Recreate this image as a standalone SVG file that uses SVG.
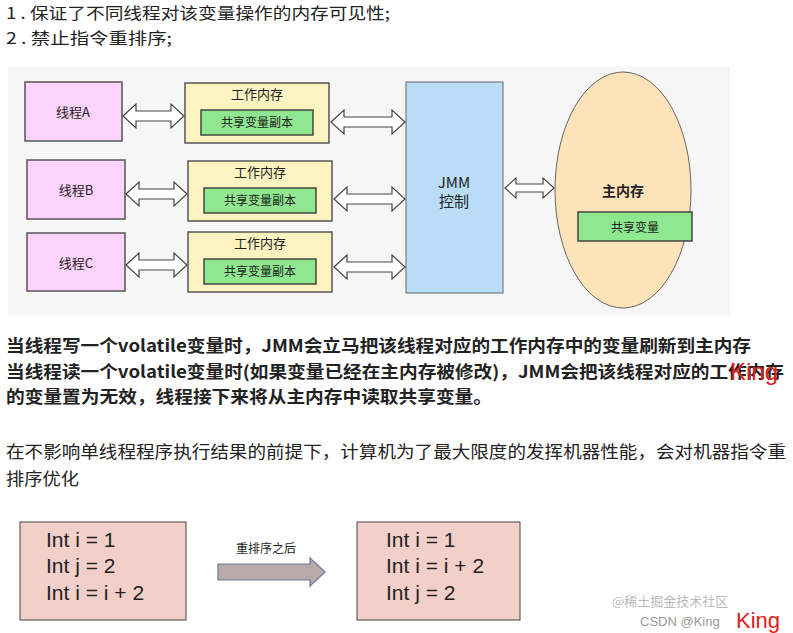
<svg xmlns="http://www.w3.org/2000/svg" width="793" height="633" viewBox="0 0 793 633">
<style>
.t{font-family:"Noto Sans CJK SC","Noto Sans",sans-serif;fill:#222}
.th{fill:#fcd3fc;stroke:#555;stroke-width:1.5}
.wm{fill:#fdf3c0;stroke:#555;stroke-width:1.5}
.gr{fill:#8fe88f;stroke:#444;stroke-width:1.5}
.da{fill:#fff;stroke:#444;stroke-width:1.2}
.code{fill:#f2cfc9;stroke:#444;stroke-width:1}
.c{font-family:"Liberation Sans","Noto Sans",sans-serif;font-size:21px;fill:#222}
</style>
<rect width="793" height="633" fill="#fff"/>
<text class="t" x="6" y="19" font-size="16" textLength="384" lengthAdjust="spacingAndGlyphs">1 . 保证了不同线程对该变量操作的内存可见性;</text>
<text class="t" x="6" y="44" font-size="16" textLength="166" lengthAdjust="spacingAndGlyphs">2 . 禁止指令重排序;</text>
<rect x="8" y="66" width="722" height="250" fill="#f6f6f6"/>
<g id="threadA"><rect class="th" x="25" y="82" width="97" height="59"/><text class="t" x="73" y="117" font-size="13" text-anchor="middle">线程A</text></g>
<g id="threadB"><rect class="th" x="27" y="160" width="98" height="59"/><text class="t" x="76" y="195" font-size="13" text-anchor="middle">线程B</text></g>
<g id="threadC"><rect class="th" x="27" y="233" width="98" height="58"/><text class="t" x="76" y="268" font-size="13" text-anchor="middle">线程C</text></g>
<g id="wmA"><rect class="wm" x="185" y="83" width="144" height="60"/><text class="t" x="257" y="99" font-size="13" text-anchor="middle">工作内存</text><rect class="gr" x="201" y="110" width="112" height="25"/><text class="t" x="257" y="127" font-size="12" text-anchor="middle">共享变量副本</text></g>
<g id="wmB"><rect class="wm" x="188" y="161" width="144" height="60"/><text class="t" x="260" y="177" font-size="13" text-anchor="middle">工作内存</text><rect class="gr" x="204" y="188" width="112" height="25"/><text class="t" x="260" y="205" font-size="12" text-anchor="middle">共享变量副本</text></g>
<g id="wmC"><rect class="wm" x="188" y="232" width="144" height="60"/><text class="t" x="260" y="248" font-size="13" text-anchor="middle">工作内存</text><rect class="gr" x="204" y="259" width="112" height="25"/><text class="t" x="260" y="276" font-size="12" text-anchor="middle">共享变量副本</text></g>
<g id="jmm"><rect x="406" y="82" width="97" height="211" fill="#b9ddf6" stroke="#666" stroke-width="1"/><text class="t" x="454" y="188" font-size="15" text-anchor="middle">JMM</text><text class="t" x="454" y="207" font-size="15" text-anchor="middle">控制</text></g>
<g id="main"><ellipse cx="623" cy="190" rx="68" ry="118" fill="#fde3b8" stroke="#666" stroke-width="1"/><text class="t" x="623" y="196" font-size="14" font-weight="bold" text-anchor="middle">主内存</text><rect class="gr" x="578" y="212" width="114" height="29"/><text class="t" x="635" y="232" font-size="12" text-anchor="middle">共享变量</text></g>
<g id="connectors">
<path class="da" d="M123 116 L136 104 L136 111 L171 111 L171 104 L184 116 L171 128 L171 121 L136 121 L136 128 Z"/>
<path class="da" d="M126 194 L139 182 L139 189 L174 189 L174 182 L187 194 L174 206 L174 199 L139 199 L139 206 Z"/>
<path class="da" d="M126 265 L139 253 L139 260 L174 260 L174 253 L187 265 L174 277 L174 270 L139 270 L139 277 Z"/>
<path class="da" d="M331 122 L344 110 L344 117 L392 117 L392 110 L405 122 L392 134 L392 127 L344 127 L344 134 Z"/>
<path class="da" d="M334 199 L347 187 L347 194 L392 194 L392 187 L405 199 L392 211 L392 204 L347 204 L347 211 Z"/>
<path class="da" d="M334 267 L347 255 L347 262 L392 262 L392 255 L405 267 L392 279 L392 272 L347 272 L347 279 Z"/>
<path class="da" d="M505 188 L516 178 L516 184 L543 184 L543 178 L554 188 L543 198 L543 192 L516 192 L516 198 Z"/>
</g>
<text class="t" x="6" y="352" font-size="17" font-weight="bold" textLength="745" lengthAdjust="spacingAndGlyphs">当线程写一个volatile变量时，JMM会立马把该线程对应的工作内存中的变量刷新到主内存</text>
<text class="t" x="6" y="378" font-size="17" font-weight="bold" textLength="778" lengthAdjust="spacingAndGlyphs">当线程读一个volatile变量时(如果变量已经在主内存被修改)，JMM会把该线程对应的工作内存</text>
<text class="t" x="6" y="403" font-size="17" font-weight="bold" textLength="486" lengthAdjust="spacingAndGlyphs">的变量置为无效，线程接下来将从主内存中读取共享变量。</text>
<text class="t" x="6" y="458" font-size="17" textLength="780" lengthAdjust="spacingAndGlyphs">在不影响单线程程序执行结果的前提下，计算机为了最大限度的发挥机器性能，会对机器指令重</text>
<text class="t" x="6" y="485" font-size="17" textLength="73" lengthAdjust="spacingAndGlyphs">排序优化</text>
<g id="code1"><rect class="code" x="20" y="522" width="166" height="98"/><text class="c" x="46" y="547">Int i = 1</text><text class="c" x="46" y="573">Int j = 2</text><text class="c" x="46" y="600">Int i = i + 2</text></g>
<g id="reorder"><text class="t" x="266" y="553" font-size="12" text-anchor="middle">重排序之后</text><path d="M218 564 L310 564 L310 558 L325 572 L310 586 L310 580 L218 580 Z" fill="#b9a9a9" stroke="#6a7a95" stroke-width="1.2"/></g>
<g id="code2"><rect class="code" x="357" y="522" width="163" height="98"/><text class="c" x="386" y="547">Int i = 1</text><text class="c" x="386" y="573">Int i = i + 2</text><text class="c" x="386" y="600">Int j = 2</text></g>
<text x="612" y="606" font-family="Noto Sans CJK SC,sans-serif" font-size="13" fill="#bbb">@稀土掘金技术社区</text>
<text x="640" y="626" font-family="Liberation Sans,sans-serif" font-size="13" fill="#999">CSDN @King</text>
<text x="730" y="380" font-family="Liberation Sans,sans-serif" font-size="24" fill="#e02020">King</text>
<text x="736" y="628" font-family="Liberation Sans,sans-serif" font-size="22" fill="#e02020">King</text>
</svg>
